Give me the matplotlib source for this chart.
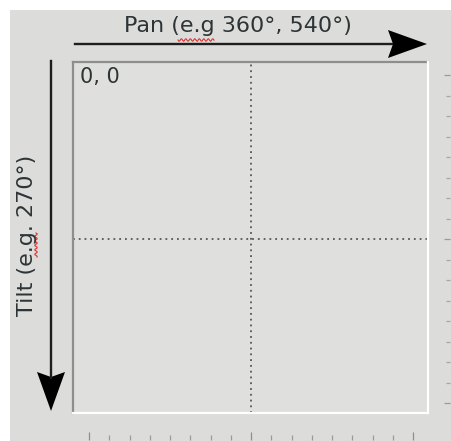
import numpy as np
import matplotlib
matplotlib.use("Agg")
import matplotlib.pyplot as plt
from matplotlib.lines import Line2D
from matplotlib.patches import Polygon, Rectangle

W, H = 451, 441

pan_label = "Pan (e.g 360°, 540°)"
tilt_label = "Tilt (e.g. 270°)"
origin_label = "0, 0"
pan_ticks = np.arange(-8, 9)
tilt_ticks = np.arange(-8, 9)
major_ticks = [-8, 0, 8]
pan_center = 0
tilt_center = 0

BG = "#dcdddb"
PANEL = "#dfe0dd"
DARK = "#2e3436"
PT = 0.72  # points per pixel at dpi=100


def fx(x):
    return x / W


def fy(y):
    return 1 - y / H


fig = plt.figure(figsize=(W / 100, H / 100), dpi=100)
fig.patch.set_facecolor("white")
fig.patches.append(Rectangle((fx(10), 0), 1, fy(10), transform=fig.transFigure,
                             facecolor=BG, edgecolor="none", zorder=-5))

# main pad
left, top, right, bottom = 73, 62, 428, 413
ax = fig.add_axes([fx(left), fy(bottom), fx(right - left), (bottom - top) / H])
ax.set_zorder(2)
ax.set_facecolor(PANEL)
unit_x, unit_y = 20.25, 20.5
cx, cy = 251, 239
ax.set_xlim((left - cx) / unit_x, (right - cx) / unit_x)
ax.set_ylim((bottom - cy) / unit_y, (top - cy) / unit_y)

ax.axvline(pan_center, color="#555753", ls=(0, (1, 2.2)), lw=1.3)
ax.axhline(tilt_center, color="#555753", ls=(0, (1, 2.2)), lw=1.3)

# sunken frame
ax.plot([0, 1], [1, 1], transform=ax.transAxes, color="#8e8f8c", lw=1.6, clip_on=False)
ax.plot([0, 0], [0, 1], transform=ax.transAxes, color="#8e8f8c", lw=1.6, clip_on=False)
ax.plot([0, 1], [0, 0], transform=ax.transAxes, color="white", lw=1.6, clip_on=False)
ax.plot([1, 1], [0, 1], transform=ax.transAxes, color="white", lw=1.6, clip_on=False)

for s in ax.spines.values():
    s.set_visible(False)
ax.spines["bottom"].set_position(("outward", 27 * PT))
ax.spines["right"].set_position(("outward", 22 * PT))

ax.set_xticks(major_ticks)
ax.set_xticks([t for t in pan_ticks if t not in major_ticks], minor=True)
ax.set_yticks(major_ticks)
ax.set_yticks([t for t in tilt_ticks if t not in major_ticks], minor=True)
ax.yaxis.tick_right()
ax.tick_params(axis="x", which="major", direction="in", length=8 * PT, width=0.9,
               color="#8e8f8c", labelbottom=False)
ax.tick_params(axis="x", which="minor", direction="in", length=5 * PT, width=0.9,
               color="#9a9b98")
ax.tick_params(axis="y", which="major", direction="in", length=6 * PT, width=0.9,
               color="#9a9b98", labelright=False, labelleft=False, left=False)
ax.tick_params(axis="y", which="minor", direction="in", length=4 * PT, width=0.9,
               color="#a5a6a3", left=False)

ax.text(0.02, 0.985, origin_label, transform=ax.transAxes, ha="left", va="top",
        fontsize=15, color=DARK)

# pan arrow
fig.add_artist(Line2D([fx(75), fx(392)], [fy(44), fy(44)], color="#1e1e1e", lw=1.7))
fig.add_artist(Polygon([(fx(427), fy(44)), (fx(388), fy(30)), (fx(393), fy(44)),
                        (fx(388), fy(58))], closed=True, transform=fig.transFigure,
                       facecolor="black", edgecolor="none"))
fig.text(fx(238), fy(26), pan_label, ha="center", va="center", fontsize=16, color=DARK)

# tilt arrow
fig.add_artist(Line2D([fx(51), fx(51)], [fy(61), fy(378)], color="#1e1e1e", lw=1.7))
fig.add_artist(Polygon([(fx(51), fy(411)), (fx(37), fy(372)), (fx(51), fy(377)),
                        (fx(65), fy(372))], closed=True, transform=fig.transFigure,
                       facecolor="black", edgecolor="none"))
fig.text(fx(27), fy(235), tilt_label, ha="center", va="center", rotation=90,
         fontsize=16, color=DARK)

# spell-check squiggles
sx = np.linspace(178, 214, 40)
fig.add_artist(Line2D(fx(sx), fy(40 + 1.3 * np.sin((sx - 178) * 1.4)),
                      color="#e03030", lw=0.8))
sy = np.linspace(233, 257, 30)
fig.add_artist(Line2D(fx(36 + 1.3 * np.sin((sy - 233) * 1.4)), fy(sy),
                      color="#e03030", lw=0.8))

fig.savefig("out.png", dpi=100)
